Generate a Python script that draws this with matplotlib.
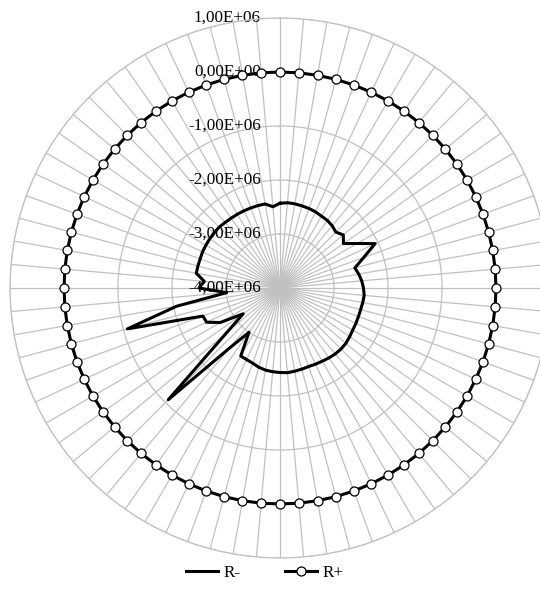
import numpy as np
import matplotlib
matplotlib.use("Agg")
import matplotlib.pyplot as plt
from matplotlib.transforms import offset_copy

plt.rcParams['font.family'] = ['Liberation Serif', 'DejaVu Serif']

# 72 categories (every 5 degrees), clockwise from top
categories = list(range(1, 73))

r_minus = [-2.431e6, -2.415e6, -2.417e6, -2.426e6, -2.433e6, -2.444e6, -2.463e6, -2.472e6,
           -2.496e6, -2.537e6, -2.470e6, -2.565e6, -2.352e6, -2.056e6, -2.352e6, -2.565e6,
           -2.519e6, -2.481e6, -2.454e6, -2.435e6, -2.444e6, -2.454e6, -2.454e6, -2.450e6,
           -2.444e6, -2.426e6, -2.407e6, -2.402e6, -2.407e6, -2.420e6, -2.435e6, -2.444e6,
           -2.452e6, -2.444e6, -2.435e6, -2.426e6, -2.435e6, -2.444e6, -2.456e6, -2.481e6,
           -2.519e6, -2.537e6, -2.546e6, -3.000e6, -2.556e6, -1.074e6, -2.704e6, -3.167e6,
           -2.722e6, -2.500e6, -2.481e6, -1.074e6, -2.056e6, -3.009e6, -2.500e6, -2.593e6,
           -2.426e6, -2.426e6, -2.426e6, -2.417e6, -2.415e6, -2.411e6, -2.407e6, -2.407e6,
           -2.417e6, -2.422e6, -2.422e6, -2.422e6, -2.422e6, -2.420e6, -2.420e6, -2.489e6]

r_plus = [0.0] * 72

r_ticks = [-4e6, -3e6, -2e6, -1e6, 0, 1e6]
r_tick_labels = ["-4,00E+06", "-3,00E+06", "-2,00E+06", "-1,00E+06", "0,00E+00", "1,00E+06"]

n = len(categories)
theta = np.arange(n) * 2 * np.pi / n
theta_c = np.append(theta, theta[0])

fig = plt.figure(figsize=(5.4, 5.99), dpi=100)
ax = fig.add_axes([10/540, 41/599, 540/540, 540/599], projection='polar')
ax.set_theta_zero_location('N')
ax.set_theta_direction(-1)
ax.set_ylim(-4e6, 1e6)

grid_color = '#c0c0c0'
ax.set_xticks(theta)
ax.set_xticklabels([])
ax.set_yticks(r_ticks)
ax.set_yticklabels([])
ax.tick_params(length=0)
ax.xaxis.grid(True, color=grid_color, linewidth=0.9)
ax.yaxis.grid(True, color=grid_color, linewidth=0.9)
ax.spines['polar'].set_color(grid_color)
ax.spines['polar'].set_linewidth(0.9)

tr = offset_copy(ax.transData, fig=fig, x=-19, y=0, units='dots')
for rv, lab in zip(r_ticks, r_tick_labels):
    ax.text(0, rv, lab, transform=tr, ha='right', va='center', fontsize=12.3, zorder=2.5)

ax.plot(theta_c, np.append(r_minus, r_minus[0]), color='black', linewidth=2.2, label='R-', zorder=3)
ax.plot(theta_c, np.append(r_plus, r_plus[0]), color='black', linewidth=2.2,
        marker='o', markersize=6.5, markerfacecolor='white', markeredgecolor='black',
        markeredgewidth=0.9, markevery=list(range(n)), label='R+', zorder=4)

leg = fig.legend(loc='center', bbox_to_anchor=(0.49, 0.043), ncol=2, frameon=False,
                 fontsize=12.3, handlelength=1.9, columnspacing=2.6, handletextpad=0.3)

fig.savefig('out.png', dpi=100)
